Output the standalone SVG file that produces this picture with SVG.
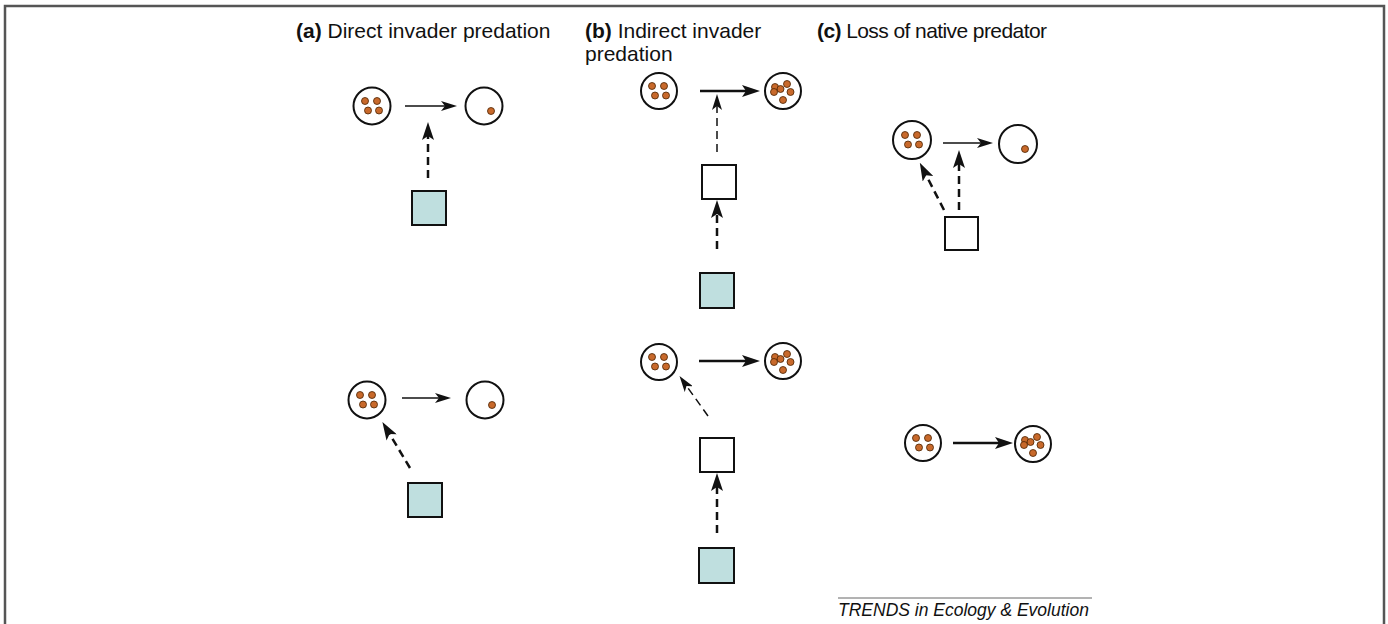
<svg xmlns="http://www.w3.org/2000/svg" xmlns:xlink="http://www.w3.org/1999/xlink" width="1388" height="624" viewBox="0 0 1388 624">
<style>
.t{font-family:"Liberation Sans",Arial,sans-serif;font-size:21px;fill:#111}
.b{font-weight:bold}
.c{fill:#fff;stroke:#111;stroke-width:2}
.d{fill:#c8692b;stroke:#4a2200;stroke-width:0.8}
.sq{stroke:#111;stroke-width:2}
.w{fill:#fff}
.teal{fill:#bfdfdf}
.thin{stroke:#111;stroke-width:1.5;fill:none}
.thick{stroke:#111;stroke-width:2.5;fill:none}
.dash{stroke-dasharray:8 5}
</style>
<defs>
<marker id="ahs" viewBox="0 0 16 10" refX="10" refY="5" markerWidth="16" markerHeight="10" markerUnits="userSpaceOnUse" orient="auto"><path d="M0,0 L16,5 L0,10 L4,5 z" fill="#111"/></marker>
<marker id="ahb" viewBox="0 0 18 12" refX="11" refY="6" markerWidth="18" markerHeight="12" markerUnits="userSpaceOnUse" orient="auto"><path d="M0,0 L18,6 L0,12 L4,6 z" fill="#111"/></marker>
<g id="four"><circle class="d" cx="-7" cy="-5" r="3.5"/><circle class="d" cx="5" cy="-5" r="3.5"/><circle class="d" cx="-4" cy="4.5" r="3.5"/><circle class="d" cx="7" cy="4.5" r="3.5"/></g>
<g id="six"><circle class="d" cx="-8" cy="-4" r="3.5"/><circle class="d" cx="4" cy="-7" r="3.5"/><circle class="d" cx="-2.5" cy="-2" r="3.5"/><circle class="d" cx="-9" cy="1" r="3.5"/><circle class="d" cx="7.5" cy="1" r="3.5"/><circle class="d" cx="0" cy="9" r="3.5"/></g>
<g id="one"><circle class="d" cx="7" cy="5" r="3.5"/></g>
</defs>
<path d="M5,628 V6 H1384 V628" fill="none" stroke="#555" stroke-width="2.5"/>
<g id="titles">
<text class="t" x="296" y="38"><tspan class="b">(a)</tspan> Direct invader predation</text>
<text class="t" x="585" y="38"><tspan class="b">(b)</tspan> Indirect invader</text>
<text class="t" x="585" y="61">predation</text>
<text class="t" x="817" y="38" textLength="230" lengthAdjust="spacing"><tspan class="b">(c)</tspan> Loss of native predator</text>
</g>
<g id="connectors">
<line class="thin" x1="405" y1="106" x2="451" y2="106" marker-end="url(#ahs)"/>
<line class="thick dash" x1="428" y1="178" x2="428" y2="129" marker-end="url(#ahb)"/>
<line class="thin" x1="402" y1="398" x2="445" y2="398" marker-end="url(#ahs)"/>
<line class="thick dash" x1="410" y1="468" x2="386" y2="428" marker-end="url(#ahb)"/>
<line class="thick" x1="700" y1="91" x2="753" y2="91" marker-end="url(#ahb)"/>
<line class="thin dash" x1="717" y1="152" x2="717" y2="100" marker-end="url(#ahs)"/>
<line class="thick dash" x1="717" y1="249" x2="717" y2="207" marker-end="url(#ahb)"/>
<line class="thick" x1="699" y1="361" x2="753" y2="361" marker-end="url(#ahb)"/>
<line class="thin dash" x1="708" y1="416" x2="683" y2="381" marker-end="url(#ahs)"/>
<line class="thick dash" x1="717" y1="533" x2="717" y2="480" marker-end="url(#ahb)"/>
<line class="thin" x1="943" y1="143" x2="987" y2="143" marker-end="url(#ahs)"/>
<line class="thick dash" x1="944" y1="210" x2="923" y2="169" marker-end="url(#ahb)"/>
<line class="thick dash" x1="959" y1="210" x2="959" y2="157" marker-end="url(#ahb)"/>
<line class="thick" x1="953" y1="443" x2="1006" y2="443" marker-end="url(#ahb)"/>
</g>
<g id="a-top">
<circle class="c" cx="372" cy="106" r="18.5"/><use href="#four" x="372" y="106"/>
<circle class="c" cx="484" cy="106" r="18.5"/><use href="#one" x="484" y="106"/>
<rect class="sq teal" x="412" y="191" width="34" height="34"/>
</g>
<g id="a-bottom">
<circle class="c" cx="367" cy="400" r="18.5"/><use href="#four" x="367" y="400"/>
<circle class="c" cx="485" cy="400" r="18.5"/><use href="#one" x="485" y="400"/>
<rect class="sq teal" x="408" y="483" width="34" height="34"/>
</g>
<g id="b-top">
<circle class="c" cx="659" cy="91" r="18"/><use href="#four" x="659" y="91"/>
<circle class="c" cx="783" cy="91" r="18"/><use href="#six" x="783" y="91"/>
<rect class="sq w" x="702" y="165" width="34" height="34"/>
<rect class="sq teal" x="700" y="273" width="34" height="35"/>
</g>
<g id="b-bottom">
<circle class="c" cx="659" cy="362" r="18"/><use href="#four" x="659" y="362"/>
<circle class="c" cx="783" cy="361" r="18"/><use href="#six" x="783" y="361"/>
<rect class="sq w" x="700" y="438" width="34" height="34"/>
<rect class="sq teal" x="699" y="548" width="35" height="35"/>
</g>
<g id="c-top">
<circle class="c" cx="912" cy="140" r="19"/><use href="#four" x="912" y="140"/>
<circle class="c" cx="1018" cy="144" r="19"/><use href="#one" x="1018" y="144"/>
<rect class="sq w" x="945" y="217" width="33" height="33"/>
</g>
<g id="c-bottom">
<circle class="c" cx="923" cy="443" r="18"/><use href="#four" x="923" y="443"/>
<circle class="c" cx="1033" cy="444" r="18"/><use href="#six" x="1033" y="444"/>
</g>
<g id="footer">
<line x1="838" y1="598" x2="1092" y2="598" stroke="#666" stroke-width="1"/>
<text x="838" y="616" font-family="'Liberation Sans',Arial,sans-serif" font-style="italic" font-size="17.5" fill="#111">TRENDS in Ecology &amp; Evolution</text>
</g>
</svg>
